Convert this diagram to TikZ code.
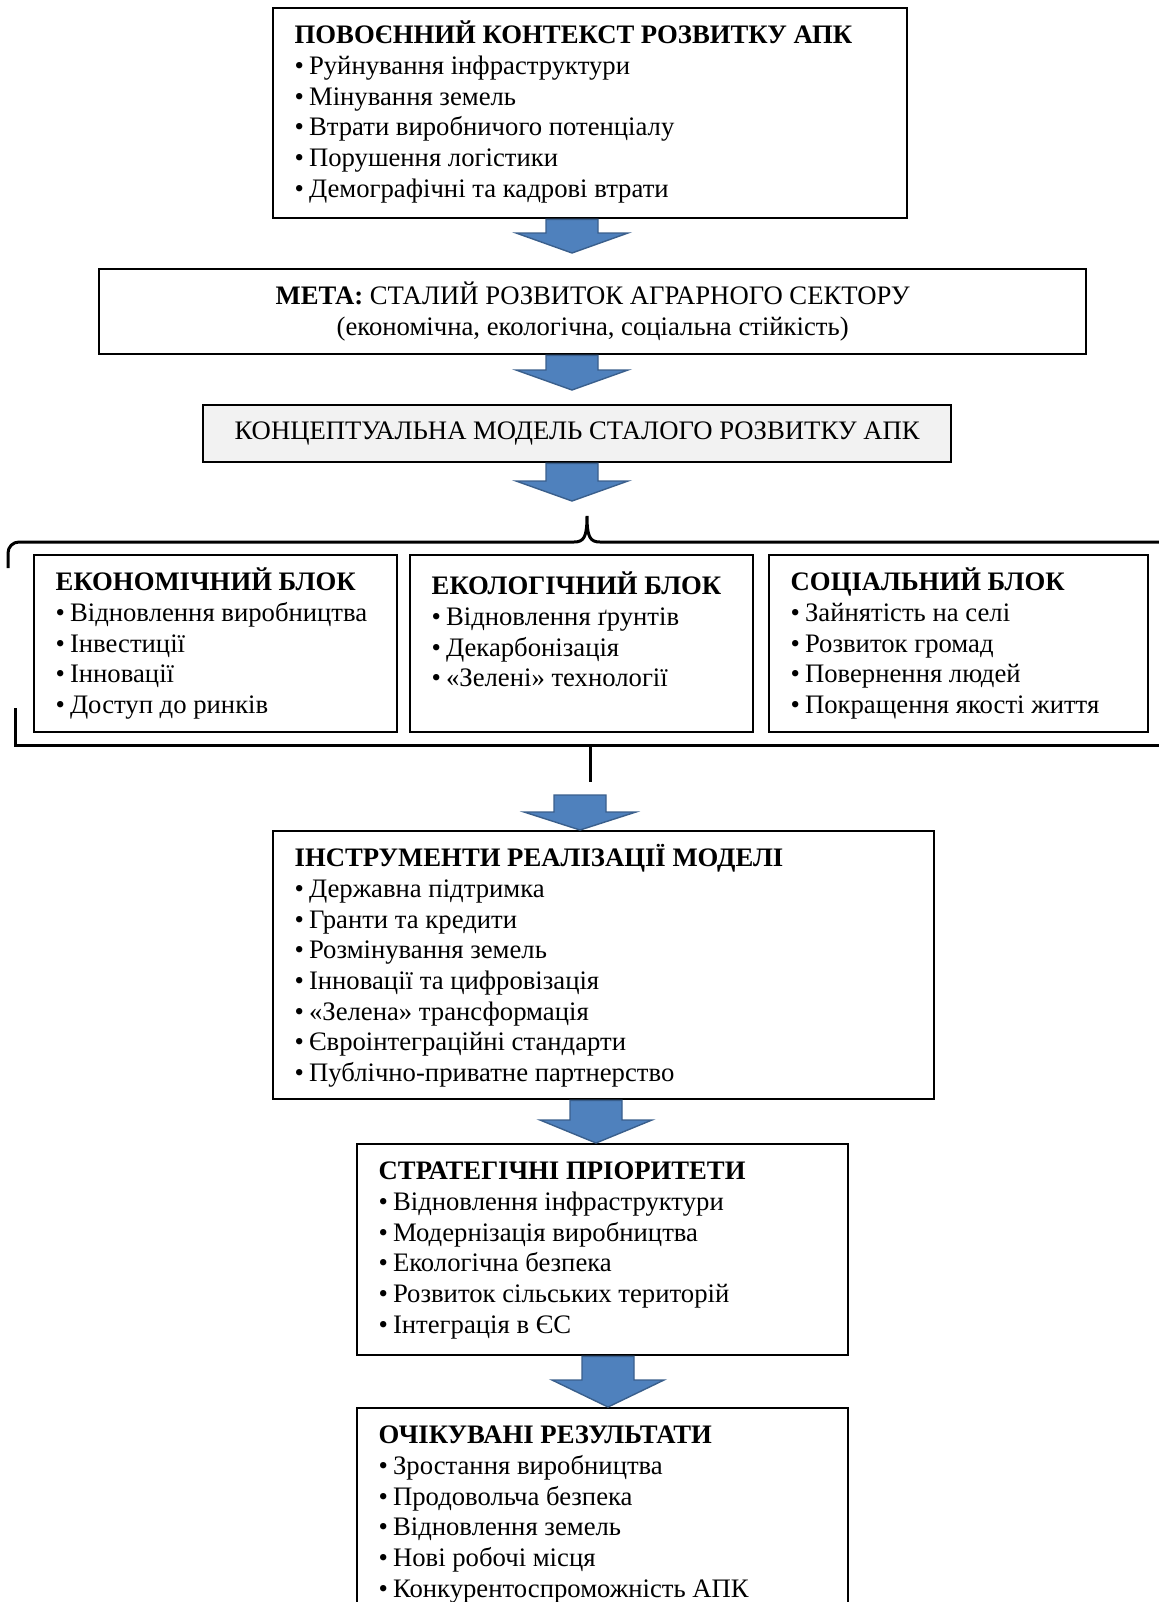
\documentclass[tikz,border=0pt]{standalone}
\usepackage{fontspec}
\setmainfont{Liberation Serif}
\usetikzlibrary{calc}

\definecolor{arrowblue}{HTML}{4F81BD}
\definecolor{arrowedge}{HTML}{3A5F8C}
\definecolor{modelgrey}{HTML}{F2F2F2}

\newcommand{\head}[2][10.5pt]{\rule{0pt}{#1}\smash{\textbf{#2}}}
\newcommand{\itm}[1]{\par\mbox{\textbullet\hspace{2.5pt}#1}}
\newcommand{\bluearrow}[4]{%
  \path[blockarrow] let \p1=(#1,0), \p2=(#2), \p3=(#3) in
    (\x1-13pt,\y2) -- (\x1+13pt,\y2) -- (\x1+13pt,\y3+#4) -- (\x1+28pt,\y3+#4)
    -- (\x1,\y3) -- (\x1-28pt,\y3+#4) -- (\x1-13pt,\y3+#4) -- cycle;}

\tikzset{
  panel/.style={draw, line width=1.2pt, anchor=north west, inner xsep=10.75pt, inner ysep=7.25pt},
  goalbox/.style={draw, line width=1.2pt, anchor=north west, align=center, inner sep=0pt},
  blockarrow/.style={fill=arrowblue, draw=arrowedge, line width=0.7pt},
  bracket/.style={line width=1.5pt}
}

\begin{document}
\begin{tikzpicture}[x=0.5pt,y=-0.5pt,font=\fontsize{13.35}{15.35}\selectfont]
\useasboundingbox (0,0) rectangle (1159,1602);

% context, goal, model
\node[panel] (context) at (272,7) {\parbox[t][90.5pt][t]{295.5pt}{%
  \head{ПОВОЄННИЙ КОНТЕКСТ РОЗВИТКУ АПК}
  \itm{Руйнування інфраструктури}
  \itm{Мінування земель}
  \itm{Втрати виробничого потенціалу}
  \itm{Порушення логістики}
  \itm{Демографічні та кадрові втрати}}};
\node[goalbox, minimum width=493.5pt, minimum height=42.5pt] (goal) at (98,268)
  {\textbf{МЕТА:} СТАЛИЙ РОЗВИТОК АГРАРНОГО СЕКТОРУ\\(економічна, екологічна, соціальна стійкість)};
\node[goalbox, fill=modelgrey, minimum width=374pt, minimum height=28.5pt] (model) at (202,404)
  {КОНЦЕПТУАЛЬНА МОДЕЛЬ СТАЛОГО РОЗВИТКУ АПК};

% brace over the three blocks
\coordinate (bracetip) at (587,516);
\draw[bracket] (8,568) -- (8,553) to[out=90,in=180] (19,542) -- (574,542)
  .. controls (584,542) and (587,537) .. (bracetip)
  .. controls (587,537) and (590,542) .. (600,542) -- (1175,542);

% three blocks
\node[panel] (econ) at (33,554) {\parbox[t][74pt][t]{160pt}{%
  \head{ЕКОНОМІЧНИЙ БЛОК}
  \itm{Відновлення виробництва}
  \itm{Інвестиції}
  \itm{Інновації}
  \itm{Доступ до ринків}}};
\node[panel] (eco) at (409,554) {\parbox[t][74pt][t]{150pt}{%
  \head[12.5pt]{ЕКОЛОГІЧНИЙ БЛОК}
  \itm{Відновлення ґрунтів}
  \itm{Декарбонізація}
  \itm{«Зелені» технології}}};
\node[panel] (social) at (768,554) {\parbox[t][74pt][t]{168pt}{%
  \head{СОЦІАЛЬНИЙ БЛОК}
  \itm{Зайнятість на селі}
  \itm{Розвиток громад}
  \itm{Повернення людей}
  \itm{Покращення якості життя}}};

% bracket under the blocks
\coordinate (stem) at (590,745);
\coordinate (stemend) at (590,782);
\draw[bracket] (15,708) -- (15,745) -- (1175,745);
\draw[bracket] (stem) -- (stemend);

% tools, priorities, results
\node[panel] (tools) at (272,830) {\parbox[t][119.5pt][t]{309pt}{%
  \head{ІНСТРУМЕНТИ РЕАЛІЗАЦІЇ МОДЕЛІ}
  \itm{Державна підтримка}
  \itm{Гранти та кредити}
  \itm{Розмінування земель}
  \itm{Інновації та цифровізація}
  \itm{«Зелена» трансформація}
  \itm{Євроінтеграційні стандарти}
  \itm{Публічно-приватне партнерство}}};
\node[panel] (priority) at (356,1143) {\parbox[t][91pt][t]{224pt}{%
  \head{СТРАТЕГІЧНІ ПРІОРИТЕТИ}
  \itm{Відновлення інфраструктури}
  \itm{Модернізація виробництва}
  \itm{Екологічна безпека}
  \itm{Розвиток сільських територій}
  \itm{Інтеграція в ЄС}}};
\node[panel] (results) at (356,1407) {\parbox[t][95.5pt][t]{224pt}{%
  \head{ОЧІКУВАНІ РЕЗУЛЬТАТИ}
  \itm{Зростання виробництва}
  \itm{Продовольча безпека}
  \itm{Відновлення земель}
  \itm{Нові робочі місця}
  \itm{Конкурентоспроможність АПК}}};

% blue arrows
\bluearrow{572}{context.south}{$(goal.north)+(0,-15)$}{10pt}
\bluearrow{572}{goal.south}{$(model.north)+(0,-14)$}{10pt}
\bluearrow{572}{model.south}{$(bracetip)+(0,-15)$}{10pt}
\bluearrow{580}{$(stemend)+(0,13)$}{tools.north}{9pt}
\bluearrow{596}{tools.south}{priority.north}{11.5pt}
\bluearrow{608}{priority.south}{results.north}{13.5pt}

\end{tikzpicture}
\end{document}
